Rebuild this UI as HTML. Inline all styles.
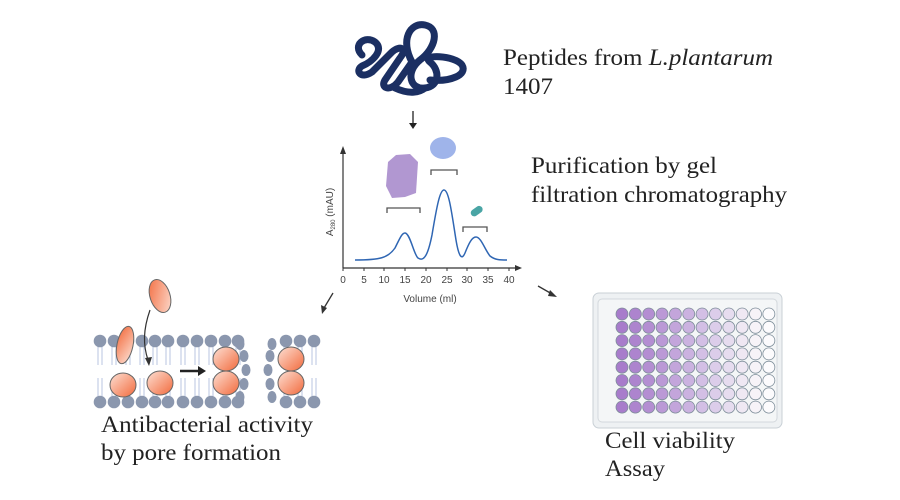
<!DOCTYPE html>
<html><head><meta charset="utf-8"><style>
html,body{margin:0;padding:0;background:#fff;width:900px;height:500px;overflow:hidden}
svg{display:block}
.t{font-family:"Liberation Serif",serif;font-size:23px;fill:#222}
.s{font-family:"Liberation Sans",sans-serif;font-size:10px;fill:#444}
</style></head><body>
<svg id="g" width="900" height="500" viewBox="0 0 900 500" xmlns="http://www.w3.org/2000/svg">
<defs>
<linearGradient id="og" x1="0" y1="0" x2="1" y2="1"><stop offset="0" stop-color="#f26a3c"/><stop offset="1" stop-color="#fde0d4"/></linearGradient>
<linearGradient id="og2" x1="1" y1="1" x2="0" y2="0"><stop offset="0" stop-color="#f26a3c"/><stop offset="1" stop-color="#fde0d4"/></linearGradient>
</defs>
<g fill="none" stroke="#1b2f62" stroke-width="7" stroke-linecap="round" stroke-linejoin="round">
<path d="M362,55 C352,45 365,35 375,42 C385,50 372,62 362,66 C355,70 360,80 372,72 L392,52 C400,45 408,48 400,58 L385,80 C380,88 390,92 398,82 L412,62"/>
<path d="M412,62 C400,40 410,22 425,25 C440,28 436,48 420,60 C405,72 410,90 425,88 C440,86 440,70 430,62 C420,54 455,55 462,65 C468,75 450,82 430,80"/>
<path d="M395,88 C410,95 420,92 425,88"/>
</g>
<line x1="413" y1="111" x2="413" y2="124" stroke="#222" stroke-width="1.3"/><path d="M409,123 L413,129 L417,123Z" fill="#222"/>
<text class="t" x="503" y="65" textLength="270" lengthAdjust="spacingAndGlyphs">Peptides from <tspan font-style="italic">L.plantarum</tspan></text>
<text class="t" x="503" y="94" textLength="50" lengthAdjust="spacingAndGlyphs">1407</text>
<text class="t" x="531" y="173" textLength="186" lengthAdjust="spacingAndGlyphs">Purification by gel</text>
<text class="t" x="531" y="202" textLength="256" lengthAdjust="spacingAndGlyphs">filtration chromatography</text>
<text class="t" x="101" y="432" textLength="212" lengthAdjust="spacingAndGlyphs">Antibacterial activity</text>
<text class="t" x="101" y="460" textLength="180" lengthAdjust="spacingAndGlyphs">by pore formation</text>
<text class="t" x="605" y="448" textLength="130" lengthAdjust="spacingAndGlyphs">Cell viability</text>
<text class="t" x="605" y="476" textLength="60" lengthAdjust="spacingAndGlyphs">Assay</text>
<g stroke="#333" stroke-width="1.2">
<line x1="343" y1="268" x2="343" y2="152"/><line x1="343" y1="268" x2="517" y2="268"/>
</g>
<path d="M340,154 L343,146 L346,154Z" fill="#333"/><path d="M515,265 L522,268 L515,271Z" fill="#333"/>
<g stroke="#333"><line x1="343" y1="268" x2="343" y2="271"/><line x1="364" y1="268" x2="364" y2="271"/><line x1="384" y1="268" x2="384" y2="271"/><line x1="405" y1="268" x2="405" y2="271"/><line x1="426" y1="268" x2="426" y2="271"/><line x1="447" y1="268" x2="447" y2="271"/><line x1="467" y1="268" x2="467" y2="271"/><line x1="488" y1="268" x2="488" y2="271"/><line x1="509" y1="268" x2="509" y2="271"/></g>
<g class="s" text-anchor="middle"><text x="343" y="283">0</text><text x="364" y="283">5</text><text x="384" y="283">10</text><text x="405" y="283">15</text><text x="426" y="283">20</text><text x="447" y="283">25</text><text x="467" y="283">30</text><text x="488" y="283">35</text><text x="509" y="283">40</text>
<text x="430" y="302">Volume (ml)</text></g>
<text class="s" transform="translate(333,212) rotate(-90)" text-anchor="middle">A<tspan font-size="6" dy="2">280</tspan><tspan dy="-2"> (mAU)</tspan></text>
<path d="M355,260 C380,260 388,258 395,248 C400,238 402,233 405,233 C410,233 414,255 418,258 C424,262 428,255 432,235 C437,205 440,190 444,190 C449,190 452,215 456,240 C459,258 462,260 465,253 C469,243 472,237 476,237 C481,237 485,250 490,256 C495,260 500,260 507,260" fill="none" stroke="#2f66b3" stroke-width="1.5"/>
<g fill="none" stroke="#555" stroke-width="1.3">
<path d="M387,213 V208 H420 V213"/><path d="M431,175 V170 H457 V175"/><path d="M463,232 V227 H487 V232"/>
</g>
<path d="M388,162 L396,155 L410,154 L418,162 L416,193 L405,197 L392,198 L386,186Z" fill="#a98ccc" opacity=".9"/>
<ellipse cx="443" cy="148" rx="13" ry="11" fill="#9fb4ea"/>
<rect x="470" y="208" width="13" height="7" rx="3.5" fill="#4aa5a5" transform="rotate(-35 476 211)"/>
<line x1="333" y1="293" x2="324" y2="308" stroke="#333" stroke-width="1.3"/><path d="M321,305 L322,314 L327,308Z" fill="#333"/>
<line x1="538" y1="286" x2="552" y2="294" stroke="#333" stroke-width="1.3"/><path d="M550,290 L557,297 L548,296Z" fill="#333"/>
<rect x="593" y="293" width="189" height="135" rx="6" fill="#eef1f3" stroke="#c9d0d6"/>
<rect x="598" y="299" width="179" height="123" rx="4" fill="#f4f6f7" stroke="#d3d8dc"/>
<g id="wells"></g>
<g id="mem"></g>
<ellipse cx="160" cy="296" rx="10" ry="17" fill="url(#og)" stroke="#666" transform="rotate(-18 160 296)"/>
<ellipse cx="125" cy="345" rx="8" ry="19" fill="url(#og)" stroke="#666" transform="rotate(12 125 345)"/>
<path d="M150,310 C143,330 143,345 148,360" fill="none" stroke="#333" stroke-width="1.2"/><path d="M145,358 L149,366 L152,357Z" fill="#333"/>
<ellipse cx="123" cy="385" rx="13" ry="12" fill="url(#og2)" stroke="#666"/>
<ellipse cx="160" cy="383" rx="13" ry="12" fill="url(#og2)" stroke="#666"/>
<line x1="180" y1="371" x2="200" y2="371" stroke="#222" stroke-width="2.5"/><path d="M198,366 L206,371 L198,376Z" fill="#222"/>
<ellipse cx="226" cy="359" rx="13" ry="12" fill="url(#og2)" stroke="#666"/>
<ellipse cx="226" cy="383" rx="13" ry="12" fill="url(#og2)" stroke="#666"/>
<ellipse cx="291" cy="359" rx="13" ry="12" fill="url(#og2)" stroke="#666"/>
<ellipse cx="291" cy="383" rx="13" ry="12" fill="url(#og2)" stroke="#666"/>
</svg>
<script>
var NS="http://www.w3.org/2000/svg";
function el(p,n,a){var e=document.createElementNS(NS,n);for(var k in a)e.setAttribute(k,a[k]);p.appendChild(e);return e;}
var w=document.getElementById("wells");
var cols=["#a87ccb","#ad84ce","#b48ed2","#bb99d6","#c3a5db","#cbb2e0","#d3bfe5","#dccdea","#e6dcef","#efe8f3","#f7f3f8","#fcfbfd"];
for(var r=0;r<8;r++)for(var c=0;c<12;c++)el(w,"circle",{cx:622+c*13.35,cy:314+r*13.3,r:6,fill:cols[c],stroke:"#7e8e9a","stroke-width":0.8});
var m=document.getElementById("mem");
function lip(x,y,dir){el(m,"line",{x1:x-2,y1:y,x2:x-2,y2:y+dir*24,stroke:"#b8c6e2","stroke-width":1});el(m,"line",{x1:x+2,y1:y,x2:x+2,y2:y+dir*24,stroke:"#b8c6e2","stroke-width":1});el(m,"circle",{cx:x,cy:y,r:6.3,fill:"#8b97ae"});}
[100,114,128,142,155,168,183,197,211,225,238].forEach(function(x){lip(x,341,1);lip(x,402,-1);});
[286,300,314].forEach(function(x){lip(x,341,1);lip(x,402,-1);});
[[240,344],[244,356],[246,370],[244,384],[240,397],[272,344],[270,356],[268,370],[270,384],[272,397]].forEach(function(p){el(m,"ellipse",{cx:p[0],cy:p[1],rx:4.5,ry:6,fill:"#8b97ae"});});
</script>
</body></html>
